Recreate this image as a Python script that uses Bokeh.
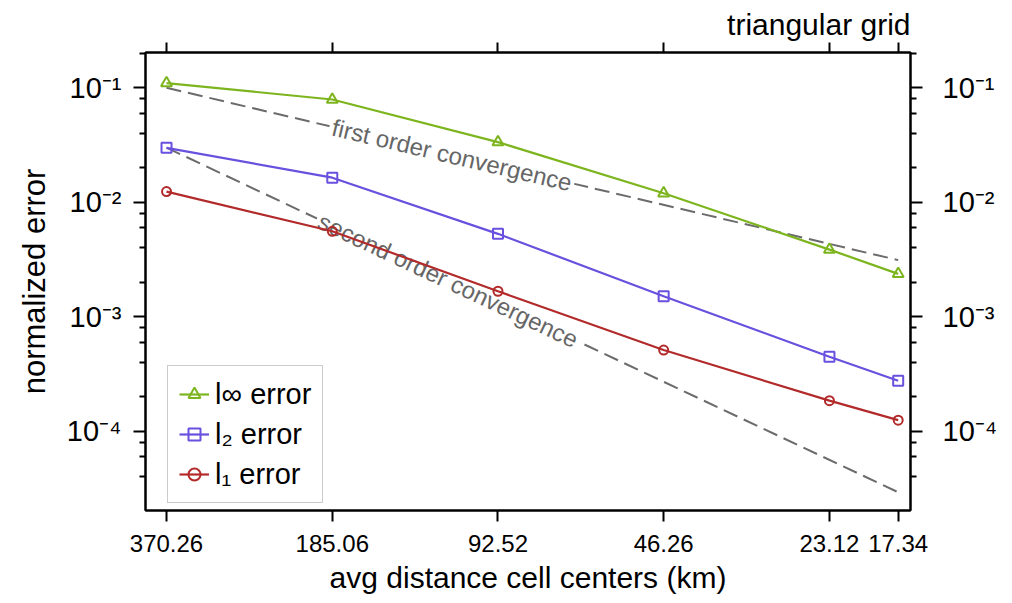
import math
from bokeh.plotting import figure
from bokeh.models import (Range1d, LogAxis, FixedTicker, CustomJSTickFormatter,
                          Legend, LegendItem)
from bokeh.core.properties import value
from bokeh.embed import file_html
from bokeh.resources import INLINE

# ---------------- data ----------------
dist_km = [370.26, 185.06, 92.52, 46.26, 23.12, 17.34]
err_linf = [0.110, 0.079, 0.0335, 0.0120, 0.00386, 0.00237]
err_l2 = [0.0299, 0.0164, 0.0053, 0.00151, 0.000448, 0.000276]
err_l1 = [0.0124, 0.00558, 0.00167, 0.000512, 0.000185, 0.000125]

ref_x = [370.26, 17.34]
first_order = [0.1, 0.003125]
second_order = [0.03, 0.0000293]
ref_labels = ["first order convergence", "second order convergence"]
ref_label_pos = [0.39, 0.385]   # fraction along each reference line

x_ticks = [370.26, 185.06, 92.52, 46.26, 23.12, 17.34]
y_ticks = [1e-4, 1e-3, 1e-2, 1e-1]
y_minor = [m * 10.0 ** k for k in range(-5, 0) for m in (2, 4, 6, 8)]

series_names = ["l\u221e error", "l\u2082 error", "l\u2081 error"]
series_colors = ["#7db51f", "#6a50df", "#b22a2a"]

# ---------------- layout ----------------
FONT = "Liberation Sans"
W, H = 1000, 600
FL, FT, FW, FH = 145, 52, 765, 458
X_START, X_END = 404.3, 16.47
Y_START, Y_END = 2.03e-5, 0.2034

p = figure(width=W, height=H, x_axis_type="log", y_axis_type="log",
           x_range=Range1d(X_START, X_END), y_range=Range1d(Y_START, Y_END),
           output_backend="svg", toolbar_location=None,
           min_border_left=FL, min_border_right=W - FL - FW,
           min_border_top=FT, min_border_bottom=H - FT - FH)
p.xgrid.visible = False
p.ygrid.visible = False
p.outline_line_color = "black"
p.outline_line_width = 2
p.background_fill_color = "white"
p.border_fill_color = "white"

xfmt = CustomJSTickFormatter(code="return tick.toFixed(2);")
yfmt = CustomJSTickFormatter(code="""
const e = Math.round(Math.log10(tick));
const sup = {'-':'\u207b','0':'\u2070','1':'\u00b9','2':'\u00b2','3':'\u00b3','4':'\u2074','5':'\u2075','6':'\u2076','7':'\u2077','8':'\u2078','9':'\u2079'};
return '10' + String(e).split('').map(c => sup[c]).join('');
""")
blank = CustomJSTickFormatter(code="return '';")


def style_axis(ax):
    ax.axis_line_width = 2
    ax.axis_line_color = "black"
    ax.major_tick_line_width = 2
    ax.minor_tick_line_width = 2
    ax.major_tick_in = 0
    ax.minor_tick_in = 0
    ax.major_label_text_font = FONT
    ax.axis_label_text_font = FONT
    ax.axis_label_text_font_style = "normal"
    ax.axis_label_text_color = "black"
    ax.major_label_text_color = "black"


# bottom x axis
xa = p.xaxis[0]
xa.ticker = FixedTicker(ticks=x_ticks, minor_ticks=[])
xa.formatter = xfmt
style_axis(xa)
xa.major_tick_out = 11
xa.minor_tick_out = 0
xa.major_label_text_font_size = "24px"
xa.major_label_standoff = 13
xa.axis_label = "avg distance cell centers (km)"
xa.axis_label_text_font_size = "30px"
xa.axis_label_standoff = 6

# top x axis (ticks only)
xt = LogAxis(ticker=FixedTicker(ticks=x_ticks, minor_ticks=[]), formatter=blank)
style_axis(xt)
xt.major_tick_out = 10
xt.minor_tick_out = 0
xt.major_label_text_font_size = "1px"
xt.major_label_standoff = 0
p.add_layout(xt, "above")

# left y axis
ya = p.yaxis[0]
ya.ticker = FixedTicker(ticks=y_ticks, minor_ticks=y_minor)
ya.formatter = yfmt
style_axis(ya)
ya.major_tick_out = 12
ya.minor_tick_out = 6
ya.major_label_text_font_size = "29px"
ya.major_label_standoff = 12
ya.axis_label = "normalized error"
ya.axis_label_text_font_size = "31px"
ya.axis_label_standoff = 12

# right y axis
yr = LogAxis(ticker=FixedTicker(ticks=y_ticks, minor_ticks=y_minor), formatter=yfmt)
style_axis(yr)
yr.major_tick_out = 12
yr.minor_tick_out = 6
yr.major_label_text_font_size = "29px"
yr.major_label_standoff = 20
p.add_layout(yr, "right")

# title
p.title.text = "triangular grid"
p.title.align = "right"
p.title.text_font = FONT
p.title.text_font_size = "30px"
p.title.text_font_style = "normal"
p.title.text_color = "black"
p.title.standoff = 4

# ---------------- reference lines ----------------
px_dec_x = FW / math.log10(X_START / X_END)
px_dec_y = FH / math.log10(Y_END / Y_START)

lab_x, lab_y, lab_a = [], [], []
for ref, t in zip([first_order, second_order], ref_label_pos):
    p.line(ref_x, ref, line_color="#6b6b6b", line_width=2, line_dash="15 7")
    lab_x.append(ref_x[0] * (ref_x[1] / ref_x[0]) ** t)
    lab_y.append(ref[0] * (ref[1] / ref[0]) ** t)
    dy = math.log10(ref[0] / ref[1]) * px_dec_y
    dx = math.log10(ref_x[0] / ref_x[1]) * px_dec_x
    lab_a.append(-math.atan2(dy, dx))

p.text(x=lab_x, y=lab_y, text=ref_labels, angle=lab_a,
       text_align="center", text_baseline="middle",
       text_font=value(FONT), text_font_size="24px", text_color="#666666",
       background_fill_color="white", padding=3)

# ---------------- data series ----------------
items = []
markers = ["triangle", "square", "circle"]
msizes = [11, 10, 9]
for ys, name, col, mk, ms in zip([err_linf, err_l2, err_l1], series_names,
                                 series_colors, markers, msizes):
    r1 = p.line(dist_km, ys, line_color=col, line_width=2.2)
    r2 = p.scatter(dist_km, ys, marker=mk, size=ms, line_color=col,
                   line_width=2, fill_color=None)
    items.append(LegendItem(label=name, renderers=[r1, r2]))

legend = Legend(items=items, location=(22, 7), orientation="vertical",
                label_text_font=FONT, label_text_font_size="29px",
                label_text_color="black",
                glyph_width=30, glyph_height=34, spacing=6, padding=11,
                margin=0, label_standoff=6,
                border_line_color="#999999", border_line_width=1,
                background_fill_color="white", background_fill_alpha=1)
p.add_layout(legend, "center")

open("out.html", "w").write(file_html(p, INLINE))
